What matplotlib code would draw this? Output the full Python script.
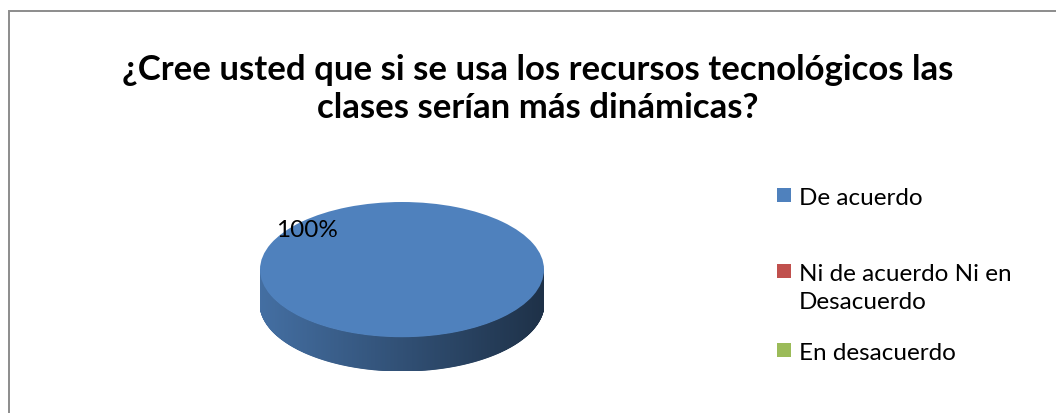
import textwrap
import numpy as np
import matplotlib.pyplot as plt
from matplotlib.patches import Rectangle, Polygon

title = "¿Cree usted que si se usa los recursos tecnológicos las\nclases serían más dinámicas?"
categories = ["De acuerdo", "Ni de acuerdo Ni en Desacuerdo", "En desacuerdo"]
values = [100, 0, 0]
colors = ["#4F81BD", "#C0504D", "#9BBB59"]

W, H = 1056, 414
fig = plt.figure(figsize=(W / 100, H / 100), dpi=100)
fig.patch.set_facecolor("white")

# chart border (runs off the right and bottom edges like the source)
fig.patches.append(Rectangle((8.5 / W, -0.1), 1.2, (H - 12) / H + 0.1,
                             transform=fig.transFigure, fill=False,
                             edgecolor="#8c8c8c", linewidth=1.4))

fig.text(538 / W, 1 - 89 / H, title, ha="center", va="center",
         fontsize=25, fontweight="bold", family="Lato", linespacing=1.2)

# pie axes: box spans the ellipse + side depth
depth = 0.5
left, right, top, bottom = 260, 544, 203, 372
ax = fig.add_axes([left / W, 1 - bottom / H, (right - left) / W, (bottom - top) / H])
ax.set_xlim(-1, 1)
ax.set_ylim(-1 - depth, 1)

# side wall, shaded left-to-right, for each wedge's front part
total = sum(values)
start = 90.0
for v, c in zip(values, colors):
    span = 360.0 * v / total
    a0, a1 = start - span, start
    start = a0
    if span == 0:
        continue
    th = np.linspace(np.radians(a0), np.radians(a1), 721)
    rgb = np.array(plt.matplotlib.colors.to_rgb(c))
    for t0, t1 in zip(th[:-1], th[1:]):
        if np.sin(t0) > 0 and np.sin(t1) > 0:
            continue
        xs = [np.cos(t0), np.cos(t1), np.cos(t1), np.cos(t0)]
        ys = [np.sin(t0), np.sin(t1), np.sin(t1) - depth, np.sin(t0) - depth]
        xm = (np.cos(t0) + np.cos(t1)) / 2
        shade = 0.86 - 0.48 * (xm + 1) / 2
        ax.add_patch(Polygon(list(zip(xs, ys)), closed=True,
                             facecolor=rgb * shade, edgecolor=rgb * shade,
                             linewidth=0.8))

wedges, _ = ax.pie(values, colors=colors, startangle=90, counterclock=False,
                   radius=1, center=(0, 0), frame=True,
                   wedgeprops=dict(linewidth=0))
ax.set_aspect("auto")
ax.set_xlim(-1, 1)
ax.set_ylim(-1 - depth, 1)
ax.axis("off")

ax.text(-0.67, 0.6, f"{values[0]:.0f}%", ha="center", va="center",
        fontsize=17.5, family="Lato", color="black")

# legend
leg_y = [196, 272, 351]
for lab, c, y in zip(categories, colors, leg_y):
    fig.patches.append(Rectangle((777 / W, 1 - (y + 7) / H), 14 / W, 14 / H,
                                 transform=fig.transFigure, facecolor=c,
                                 edgecolor="none"))
    fig.text(799 / W, 1 - (y - 8) / H, textwrap.fill(lab, 20), ha="left", va="top",
             fontsize=17.5, family="Lato", linespacing=1.42,
             transform=fig.transFigure)

fig.savefig("out.png", dpi=100)
